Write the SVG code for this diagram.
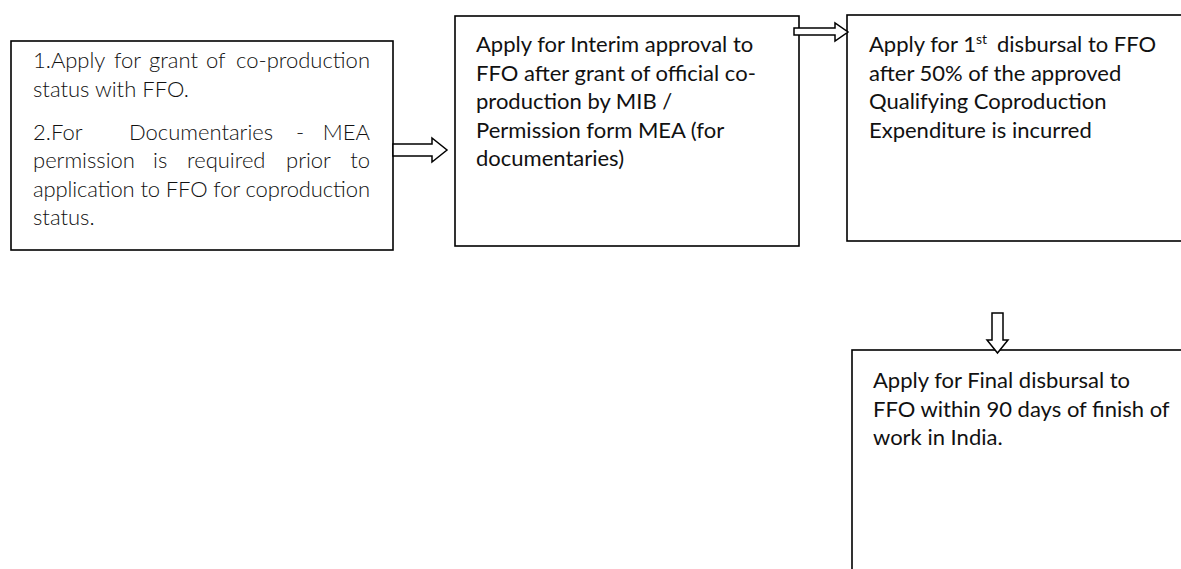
<svg xmlns="http://www.w3.org/2000/svg" width="1181" height="569" viewBox="0 0 1181 569">
<style>
.box{fill:#fff;stroke:#000;stroke-width:1.6}
.arrow{fill:#fff;stroke:#000;stroke-width:1.5;stroke-linejoin:miter}
.t{font-family:Lato,"Open Sans","Liberation Sans",sans-serif;font-size:22px;fill:#111}
.light{font-weight:300}
.end{text-anchor:end}
</style>
<rect width="1181" height="569" fill="#fff"/>
<g id="node1">
<rect class="box" x="11" y="41" width="382" height="209"/>
<g class="t light">
<text x="33" y="68">1.Apply</text><text x="114" y="68">for</text><text x="149" y="68">grant</text><text x="206" y="68">of</text><text class="end" x="370" y="68">co-production</text>
<text x="33" y="97">status with FFO.</text>
<text x="33" y="140">2.For</text><text x="129" y="140">Documentaries</text><text x="296" y="140">-</text><text class="end" x="370" y="140">MEA</text>
<text x="33" y="168">permission</text><text x="153" y="168">is</text><text x="187" y="168">required</text><text x="286" y="168">prior</text><text class="end" x="370" y="168">to</text>
<text x="33" y="197" textLength="337" lengthAdjust="spacing">application to FFO for coproduction</text>
<text x="33" y="225">status.</text>
</g>
</g>
<g id="node2">
<rect class="box" x="455" y="16" width="344" height="230"/>
<g class="t">
<text x="476" y="52">Apply for Interim approval to</text>
<text x="476" y="80.5">FFO after grant of official co-</text>
<text x="476" y="109">production by MIB /</text>
<text x="476" y="137.5">Permission form MEA (for</text>
<text x="476" y="166">documentaries)</text>
</g>
</g>
<g id="node3">
<rect class="box" x="847" y="15" width="345" height="226"/>
<g class="t">
<text x="869" y="52">Apply for 1<tspan font-size="14" dy="-8">st</tspan><tspan dy="8" dx="10">disbursal to FFO</tspan></text>
<text x="869" y="80.5">after 50% of the approved</text>
<text x="869" y="109">Qualifying Coproduction</text>
<text x="869" y="137.5">Expenditure is incurred</text>
</g>
</g>
<g id="node4">
<rect class="box" x="852" y="350" width="340" height="230"/>
<g class="t">
<text x="873" y="388">Apply for Final disbursal to</text>
<text x="873" y="416.5">FFO within 90 days of finish of</text>
<text x="873" y="445">work in India.</text>
</g>
</g>
<g id="connectors">
<polygon class="arrow" points="393,144 432,144 432,138 447,150 432,162 432,156 393,156"/>
<polygon class="arrow" points="794,28 835,28 835,23 848,32 835,41 835,35 794,35"/>
<polygon class="arrow" points="992,313 1003,313 1003,340 1008,340 997.5,353 987,340 992,340"/>
</g>
</svg>
